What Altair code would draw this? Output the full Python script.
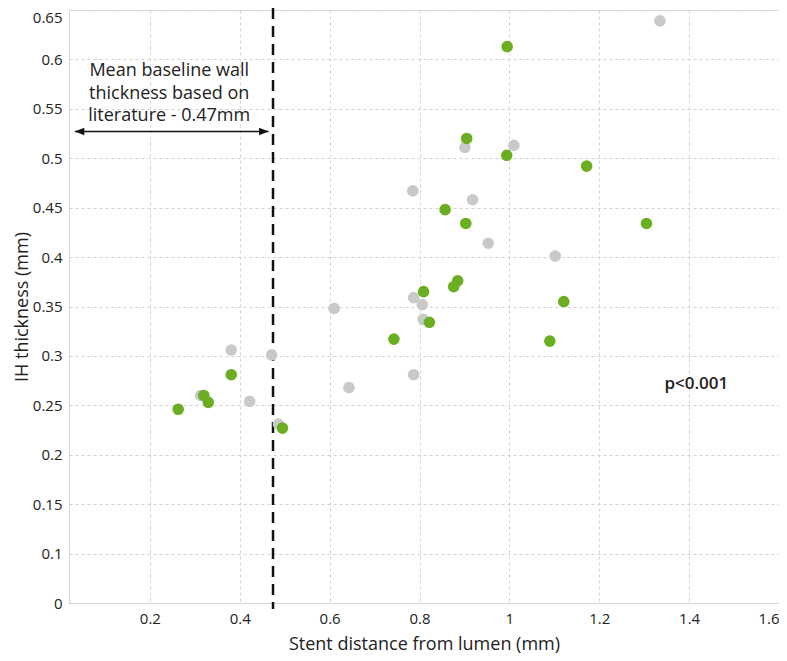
import altair as alt
import pandas as pd

# ---- data ----
gray_x = [0.381, 0.471, 0.313, 0.422, 0.486, 0.953, 0.787, 0.806, 0.610, 0.808,
          0.787, 0.643, 0.901, 1.010, 0.785, 0.918, 1.102, 1.335]
gray_y = [0.306, 0.301, 0.260, 0.254, 0.231, 0.414, 0.359, 0.352, 0.348, 0.337,
          0.281, 0.268, 0.511, 0.513, 0.467, 0.458, 0.401, 0.639]
green_x = [0.381, 0.320, 0.330, 0.263, 0.495, 0.885, 0.876, 0.809, 0.822, 0.743,
           0.905, 0.994, 0.857, 0.903, 0.995, 1.172, 1.305, 1.121, 1.090]
green_y = [0.281, 0.260, 0.253, 0.246, 0.227, 0.376, 0.370, 0.365, 0.334, 0.317,
           0.520, 0.503, 0.448, 0.434, 0.613, 0.492, 0.434, 0.355, 0.315]

x_ticks = [0.2, 0.4, 0.6, 0.8, 1.0, 1.2, 1.4, 1.6]
y_ticks = [0.05, 0.1, 0.15, 0.2, 0.25, 0.3, 0.35, 0.4, 0.45, 0.5, 0.55, 0.6, 0.65]

baseline_x = [0.474]
arrow_x = [0.033, 0.464]
arrow_y = [0.527]
note_lines = ["Mean baseline wall", "thickness based on", "literature - 0.47mm"]
note_y = [0.5880, 0.5650, 0.5425]
note_x = [0.243]
p_text = ["p<0.001"]
p_x = [1.416]
p_y = [0.2715]

FONT = "Open Sans"
TXT = "#222222"
GRID = "#d2d2d2"

pts = pd.DataFrame({
    "x": gray_x + green_x,
    "y": gray_y + green_y,
    "group": ["gray"] * len(gray_x) + ["green"] * len(green_x),
})

xscale = alt.Scale(domain=[0.02, 1.6], nice=False, zero=False)
yscale = alt.Scale(domain=[0.05, 0.65], nice=False, zero=False)

xaxis = alt.Axis(
    values=x_ticks, labelExpr="format(datum.value, '~g')",
    grid=True, gridDash=[3, 3], gridColor=GRID, ticks=False,
    domain=True, domainDash=[3, 3], domainColor=GRID,
    labelFont=FONT, labelFontSize=15, labelColor=TXT, labelPadding=8,
    title="Stent distance from lumen (mm)", titleFont=FONT, titleFontSize=18,
    titleFontWeight="normal", titleColor=TXT, titlePadding=9,
)
yaxis = alt.Axis(
    values=y_ticks,
    labelExpr="datum.value < 0.07 ? '0' : format(datum.value, '~g')",
    labelBaseline={"condition": {"test": "datum.value > 0.64", "value": "top"},
                   "value": "middle"},
    grid=True, gridDash=[3, 3], gridColor=GRID, ticks=False,
    domain=True, domainDash=[3, 3], domainColor=GRID,
    labelFont=FONT, labelFontSize=15, labelColor=TXT, labelPadding=7,
    title="IH thickness (mm)", titleFont=FONT, titleFontSize=18,
    titleFontWeight="normal", titleColor=TXT, titlePadding=1,
)

points = alt.Chart(pts).mark_circle(size=135, opacity=1).encode(
    x=alt.X("x:Q", scale=xscale, axis=xaxis),
    y=alt.Y("y:Q", scale=yscale, axis=yaxis),
    color=alt.Color("group:N", scale=alt.Scale(domain=["gray", "green"],
                                               range=["#c9c9c9", "#6cae22"]),
                    legend=None),
)

vline = alt.Chart(pd.DataFrame({"x": baseline_x})).mark_rule(
    color="#111111", strokeWidth=2.5, strokeDash=[11, 7], clip=False
).encode(x="x:Q", y=alt.datum(0.652), y2=alt.datum(0.044))

arrow_df = pd.DataFrame({"x": [arrow_x[0]], "x2": [arrow_x[1]], "y": arrow_y})
arrow_line = alt.Chart(arrow_df).mark_rule(color="#111111", strokeWidth=1.5).encode(
    x="x:Q", x2="x2:Q", y="y:Q"
)
head_l = alt.Chart(pd.DataFrame({"x": [arrow_x[0]], "y": arrow_y})).mark_point(
    shape="M0,0L2,-0.8L2,0.8Z", filled=True, color="#111111", size=90, opacity=1
).encode(x="x:Q", y="y:Q")
head_r = alt.Chart(pd.DataFrame({"x": [arrow_x[1]], "y": arrow_y})).mark_point(
    shape="M0,0L-2,-0.8L-2,0.8Z", filled=True, color="#111111", size=90, opacity=1
).encode(x="x:Q", y="y:Q")

note_df = pd.DataFrame({"x": note_x * 3, "y": note_y, "t": note_lines})
note = alt.Chart(note_df).mark_text(
    font=FONT, fontSize=18, color=TXT, align="center", baseline="middle"
).encode(x="x:Q", y="y:Q", text="t:N")

p_df = pd.DataFrame({"x": p_x, "y": p_y, "t": p_text})
ptxt = alt.Chart(p_df).mark_text(
    font=FONT, fontSize=17, fontWeight=600, color=TXT, align="center", baseline="middle"
).encode(x="x:Q", y="y:Q", text="t:N")

chart = alt.layer(vline, points, arrow_line, head_l, head_r, note, ptxt).properties(
    width=710, height=593,
    autosize=alt.AutoSizeParams(type="none"),
    padding={"left": 61, "top": 2, "right": 0, "bottom": 50},
).configure_view(stroke=None).configure(background="white")

chart.save("out.html", embed_options={"renderer": "svg", "actions": False})
